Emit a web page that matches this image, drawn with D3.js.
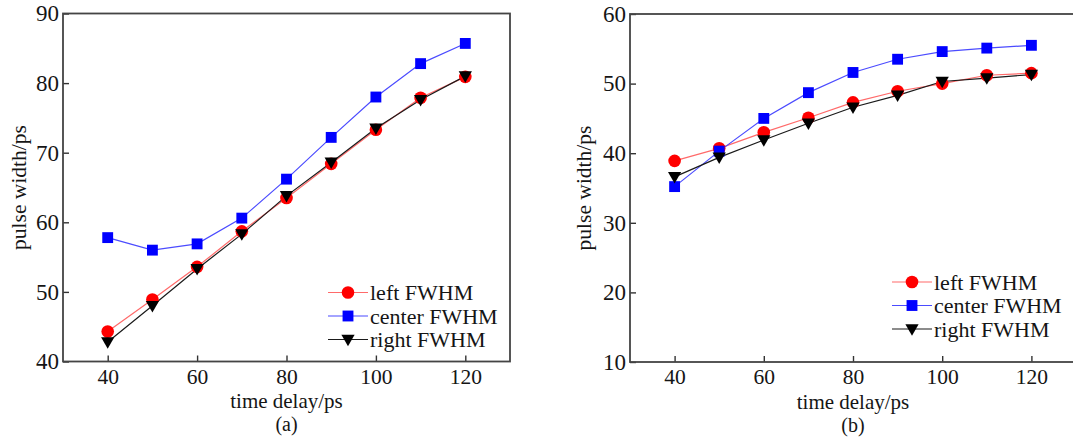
<!DOCTYPE html>
<html>
<head>
<meta charset="utf-8">
<script src="https://cdn.jsdelivr.net/npm/d3@7"></script>
<style>
  html, body { margin: 0; padding: 0; background: #fff; overflow: hidden; }
  svg { display: block; font-family: "Liberation Serif", "Times New Roman", serif; }
</style>
</head>
<body>
<svg id="chart" width="1073" height="441"></svg>
<script>
// Time delay (ps) shared by both panels
const delays = [40, 50, 60, 70, 80, 90, 100, 110, 120];

// Panel (a) pulse widths (ps)
const aLeft   = [44.3, 48.9, 53.6, 58.7, 63.5, 68.4, 73.3, 77.9, 80.9];
const aCenter = [57.8, 56.0, 56.9, 60.6, 66.2, 72.2, 78.0, 82.8, 85.7];
const aRight  = [42.8, 48.0, 53.3, 58.3, 63.8, 68.6, 73.5, 77.6, 81.0];

// Panel (b) pulse widths (ps)
const bLeft   = [38.9, 40.7, 43.0, 45.1, 47.3, 48.9, 50.0, 51.2, 51.5];
const bCenter = [35.2, 40.3, 45.0, 48.7, 51.6, 53.5, 54.6, 55.1, 55.5];
const bRight  = [36.6, 39.4, 41.9, 44.3, 46.6, 48.3, 50.3, 50.8, 51.3];

// Tick labels
const xTicks  = [40, 60, 80, 100, 120];
const aYTicks = [40, 50, 60, 70, 80, 90];
const bYTicks = [10, 20, 30, 40, 50, 60];

const seriesNames = ["left FWHM", "center FWHM", "right FWHM"];

const svg = d3.select("#chart");
const ink = "#151515";
const serif = "Liberation Serif, Times New Roman, serif";

const styles = [
  { line: "#ff6a6a", fill: "#ff0000", symbol: d3.symbolCircle, size: 125, rot: 0 },
  { line: "#4b4bff", fill: "#0000ff", symbol: d3.symbolSquare, size: 118, rot: 0 },
  { line: "#1a1a1a", fill: "#000000", symbol: d3.symbolTriangle, size: 76, rot: 180 }
];

function drawPanel(opt) {
  const g = svg.append("g");
  const x = d3.scaleLinear().domain([30, 130]).range([opt.x0, opt.x1]);
  const y = d3.scaleLinear().domain(opt.yDomain).range([opt.y1, opt.y0]);

  // x axis (ticks pointing inward)
  g.append("g")
    .attr("transform", `translate(0,${opt.y1})`)
    .call(d3.axisBottom(x).tickValues(xTicks).tickSizeInner(-6).tickSizeOuter(0).tickPadding(7))
    .call(a => a.select(".domain").remove())
    .call(a => a.selectAll("line").attr("stroke", "#333").attr("stroke-width", 1.4))
    .call(a => a.selectAll("text").attr("font-size", 21.5).attr("fill", ink).attr("font-family", serif));

  // y axis (ticks pointing inward)
  g.append("g")
    .attr("transform", `translate(${opt.x0},0)`)
    .call(d3.axisLeft(y).tickValues(opt.yTicks).tickSizeInner(-6).tickSizeOuter(0).tickPadding(4))
    .call(a => a.select(".domain").remove())
    .call(a => a.selectAll("line").attr("stroke", "#333").attr("stroke-width", 1.4))
    .call(a => a.selectAll("text").attr("font-size", 23).attr("fill", ink).attr("font-family", serif));

  // frame
  g.append("rect")
    .attr("x", opt.x0).attr("y", opt.y0)
    .attr("width", opt.x1 - opt.x0).attr("height", opt.y1 - opt.y0)
    .attr("fill", "none").attr("stroke", "#444").attr("stroke-width", 1.8);

  const line = d3.line().x((d, i) => x(delays[i])).y(d => y(d));

  opt.series.forEach((vals, k) => {
    const st = styles[k];
    g.append("path").datum(vals)
      .attr("d", line).attr("fill", "none")
      .attr("stroke", st.line).attr("stroke-width", 1.2);
  });
  opt.series.forEach((vals, k) => {
    const st = styles[k];
    g.selectAll(null).data(vals).enter().append("path")
      .attr("d", d3.symbol().type(st.symbol).size(st.size))
      .attr("transform", (d, i) => `translate(${x(delays[i])},${y(d) + (st.rot ? -1 : 0)}) rotate(${st.rot})`)
      .attr("fill", st.fill);
  });

  // legend
  const lg = g.append("g").attr("transform", `translate(${opt.legX},${opt.legY})`);
  seriesNames.forEach((name, k) => {
    const st = styles[k];
    const row = lg.append("g").attr("transform", `translate(0,${k * 23.5})`);
    row.append("line").attr("x1", 0).attr("x2", 40).attr("y1", 0).attr("y2", 0)
      .attr("stroke", st.line).attr("stroke-width", 1.2);
    row.append("path")
      .attr("d", d3.symbol().type(st.symbol).size(st.size))
      .attr("transform", `translate(20,${st.rot ? -1 : 0}) rotate(${st.rot})`)
      .attr("fill", st.fill);
    row.append("text").attr("x", 42).attr("y", 7.5)
      .attr("font-size", 22).attr("fill", ink).text(name);
  });

  const cx = (opt.x0 + opt.x1) / 2;
  g.append("text").attr("x", cx).attr("y", opt.y1 + 46.5)
    .attr("text-anchor", "middle").attr("font-size", 21).attr("fill", ink)
    .text("time delay/ps");
  g.append("text").attr("x", cx).attr("y", opt.y1 + 69.5)
    .attr("text-anchor", "middle").attr("font-size", 20).attr("fill", ink)
    .text(opt.tag);
  g.append("text")
    .attr("transform", `translate(${opt.yTitleX},${(opt.y0 + opt.y1) / 2}) rotate(-90)`)
    .attr("text-anchor", "middle").attr("font-size", 21.5).attr("fill", ink)
    .text("pulse width/ps");
}

drawPanel({
  x0: 63, x1: 510, y0: 13.5, y1: 361.5,
  yDomain: [40, 90], yTicks: aYTicks,
  series: [aLeft, aCenter, aRight],
  legX: 328, legY: 292.5, tag: "(a)", yTitleX: 26
});

drawPanel({
  x0: 630, x1: 1076, y0: 14, y1: 362,
  yDomain: [10, 60], yTicks: bYTicks,
  series: [bLeft, bCenter, bRight],
  legX: 892, legY: 282, tag: "(b)", yTitleX: 591
});
</script>
</body>
</html>
